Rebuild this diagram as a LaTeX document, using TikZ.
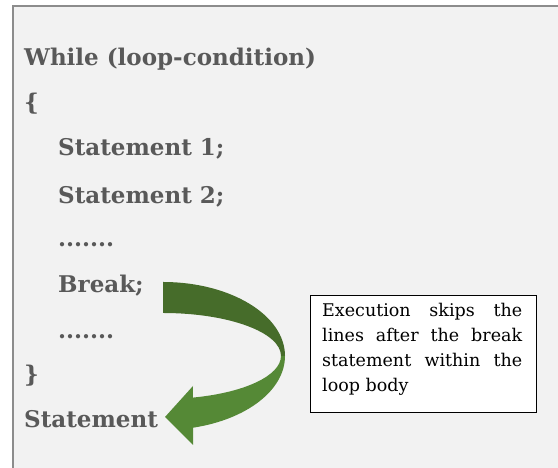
\documentclass[tikz,border=0pt]{standalone}
\usepackage{fontspec}
\setmainfont{DejaVu Serif}
\definecolor{bgfill}{HTML}{F2F2F2}
\definecolor{frame}{HTML}{8C8C8C}
\definecolor{codegray}{HTML}{595959}
\definecolor{darkgreen}{HTML}{466C2A}
\definecolor{lightgreen}{HTML}{558936}
\tikzset{
  code/.style={anchor=base west, inner sep=0pt, text=codegray, font=\fontsize{23}{26}\selectfont\bfseries},
  note/.style={anchor=base west, inner sep=0pt, text=black, font=\fontsize{17.5}{20}\selectfont},
  callout/.style={draw=black, line width=1.4pt, fill=white}
}
\begin{document}
\begin{tikzpicture}[x=1pt,y=1pt]
\useasboundingbox (0,0) rectangle (558,468);
% panel
\fill[bgfill] (13,-5) rectangle (565,462);
\draw[frame, line width=1.5pt] (13,-5) -- (13,462) -- (565,462);
% code lines
\node[code] (w) at (24,402) {While (loop-condition)};
\node[code] (ob) at (24,357) {\{};
\node[code] (s1) at (58,312) {Statement 1;};
\node[code] (s2) at (58,264) {Statement 2;};
\node[code] (d1) at (58,221) {.......};
\node[code] (br) at (58,175) {Break;};
\node[code] (d2) at (58,129) {.......};
\node[code] (cb) at (24,85) {\}};
\node[code] (st) at (24,40) {Statement};
% curved arrow: back band
\fill[darkgreen] (163,186) arc[start angle=90, end angle=0, x radius=122, y radius=74]
  -- (281,112) arc[start angle=0, end angle=90, x radius=118, y radius=43] -- cycle;
% front band with head
\fill[lightgreen] (285,112) arc[start angle=0, end angle=-75.7, x radius=122, y radius=74]
  -- (193,23) -- (165,51) -- (193,82) -- (192.9,70.4)
  arc[start angle=-75.3, end angle=0, x radius=118, y radius=43] -- cycle;
% callout
\node[callout, minimum width=226pt, minimum height=117pt, anchor=north west] (box) at (310,173) {};
\node[note] (l1) at (322,151) {\makebox[200pt][s]{Execution skips the}};
\node[note] (l2) at (322,126) {\makebox[200pt][s]{lines after the break}};
\node[note] (l3) at (322,101) {\makebox[200pt][s]{statement within the}};
\node[note] (l4) at (322,76) {loop body};
\end{tikzpicture}
\end{document}
